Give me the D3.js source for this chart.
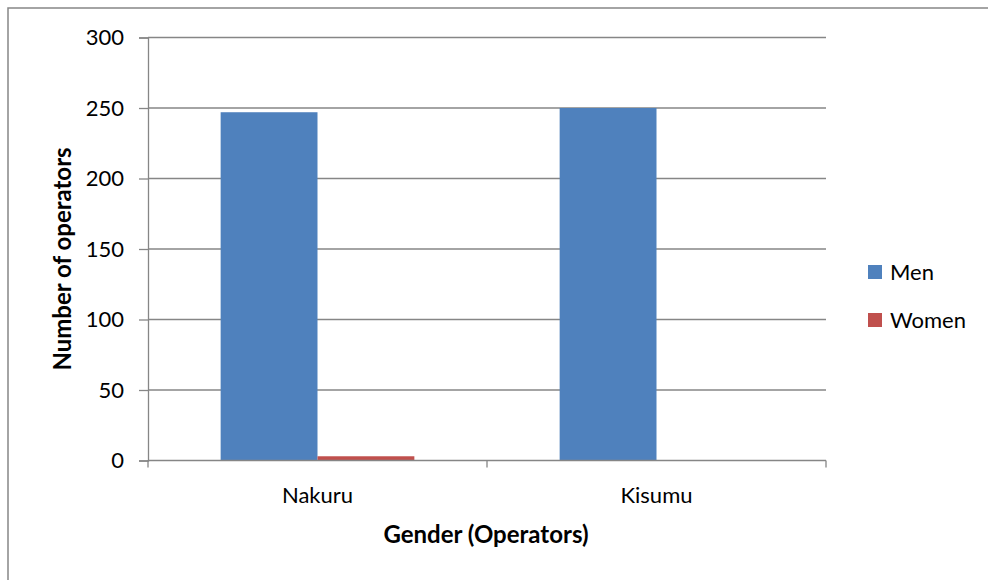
<!DOCTYPE html>
<html>
<head>
<meta charset="utf-8">
<script src="https://cdn.jsdelivr.net/npm/d3@7"></script>
<style>
  html, body { margin: 0; padding: 0; background: #fff; overflow: hidden; }
  svg { display: block; }
  svg text { font-family: Lato, "Open Sans", sans-serif; fill: #000; }
</style>
</head>
<body>
<div id="vis"></div>
<script>
// chart values
var towns = ["Nakuru", "Kisumu"];
var series = ["Men", "Women"];
var men = [247, 250];
var women = [3, 0];
var yTicks = [0, 50, 100, 150, 200, 250, 300];
var colours = { Men: "#4F81BD", Women: "#C0504D" };

var width = 988, height = 580;
var plot = { left: 148, right: 826, top: 37.5, bottom: 460.5 };
var fontSize = "22px";
var titleSize = "24px";

var svg = d3.select("#vis").append("svg")
    .attr("width", width)
    .attr("height", height);

// outer frame of the chart, only its top and left edges are in the picture
svg.append("path")
    .attr("d", "M8," + height + "V8H" + width)
    .attr("fill", "none")
    .attr("stroke", "#868686")
    .attr("stroke-width", 1.5);

var x0 = d3.scaleBand().domain(towns).range([plot.left, plot.right]);
var x1 = d3.scaleBand().domain(series).range([0, x0.bandwidth()]).paddingOuter(0.75);
var y = d3.scaleLinear().domain([0, 300]).range([plot.bottom, plot.top]);

// gridlines
svg.append("g").selectAll("line")
    .data(yTicks.filter(function(d){ return d > 0; }))
    .enter().append("line")
    .attr("x1", plot.left).attr("x2", plot.right)
    .attr("y1", function(d){ return y(d); })
    .attr("y2", function(d){ return y(d); })
    .attr("stroke", "#868686")
    .attr("stroke-width", 1.3);

var rows = towns.map(function(t, i){
    return [{ town: t, key: "Men", value: men[i] }, { town: t, key: "Women", value: women[i] }];
});

svg.append("g").selectAll("g")
    .data(rows)
    .enter().append("g")
    .attr("transform", function(d){ return "translate(" + x0(d[0].town) + ",0)"; })
    .selectAll("rect")
    .data(function(d){ return d; })
    .enter().append("rect")
    .attr("x", function(d){ return x1(d.key); })
    .attr("width", x1.bandwidth())
    .attr("y", function(d){ return y(d.value); })
    .attr("height", function(d){ return y(0) - y(d.value); })
    .attr("fill", function(d){ return colours[d.key]; });

// y axis
var yAxis = svg.append("g")
    .attr("transform", "translate(" + plot.left + ",0)")
    .call(d3.axisLeft(y).tickValues(yTicks).tickSize(9).tickPadding(15));
yAxis.selectAll("text").style("font-size", fontSize);
yAxis.selectAll("path, line").attr("stroke", "#868686").attr("stroke-width", 1.3);

// x axis with ticks at the band edges
var xAxis = svg.append("g")
    .attr("transform", "translate(0," + plot.bottom + ")");
xAxis.append("line")
    .attr("x1", plot.left).attr("x2", plot.right)
    .attr("stroke", "#868686").attr("stroke-width", 1.3);
xAxis.selectAll(".edge")
    .data(towns.map(function(t){ return x0(t); }).concat([plot.right]))
    .enter().append("line")
    .attr("class", "edge")
    .attr("x1", function(d){ return d; }).attr("x2", function(d){ return d; })
    .attr("y1", 0).attr("y2", 7)
    .attr("stroke", "#868686").attr("stroke-width", 1.3);
xAxis.selectAll(".lab")
    .data(towns)
    .enter().append("text")
    .attr("class", "lab")
    .attr("x", function(d){ return x0(d) + x0.bandwidth() / 2; })
    .attr("y", 42)
    .attr("text-anchor", "middle")
    .style("font-size", fontSize)
    .text(function(d){ return d; });

// titles
svg.append("text")
    .attr("transform", "translate(71,259) rotate(-90)")
    .attr("text-anchor", "middle")
    .style("font-size", titleSize).style("font-weight", "bold")
    .text("Number of operators");

svg.append("text")
    .attr("x", 486).attr("y", 543)
    .attr("text-anchor", "middle")
    .style("font-size", titleSize).style("font-weight", "bold")
    .text("Gender (Operators)");

// legend
var legend = svg.append("g").selectAll("g")
    .data(series)
    .enter().append("g")
    .attr("transform", function(d, i){ return "translate(868," + (265 + i * 48) + ")"; });
legend.append("rect")
    .attr("width", 14).attr("height", 14)
    .attr("fill", function(d){ return colours[d]; });
legend.append("text")
    .attr("x", 22).attr("y", 15)
    .style("font-size", fontSize)
    .text(function(d){ return d; });
</script>
</body>
</html>
